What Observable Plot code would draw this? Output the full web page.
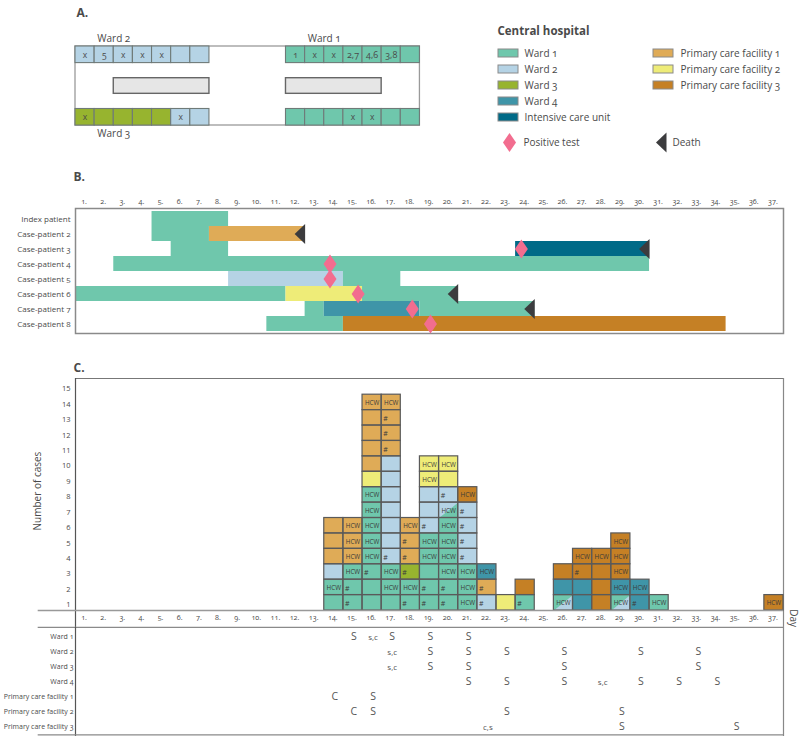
<!DOCTYPE html>
<html><head><meta charset="utf-8">
<script src="https://cdn.jsdelivr.net/npm/d3@7"></script>
<script src="https://cdn.jsdelivr.net/npm/@observablehq/plot@0.6"></script>
<style>
html,body{margin:0;padding:0;background:#fff}
#root{position:relative;width:800px;height:743px;overflow:hidden}
#root svg{position:absolute;left:0;overflow:visible}
</style></head><body><div id="root"></div>
<script>
const FONT = '"Open Sans","Noto Sans",sans-serif';
const INK = "#4a4a4a";
const colours = {W1:"#6fc7ac",W2:"#b5d3e5",W3:"#97b42f",W4:"#3f95a8",ICU:"#006a87",P1:"#dfab57",P2:"#eeec78",P3:"#c58025"};
const days = d3.range(1,38);

// Panel A
const wardTop = ["x","5","x","x","x","",""];
const wardTopRight = ["1","x","x","2,7","4,6","3,8",""];
const wardBottomGroups = ["W3","W3","W3","W3","W3","W2","W2"];
const wardBottom = ["x","","","","","x",""];
const wardBottomRight = ["","","","x","x","",""];
const wardLabels = [{t:"Ward 2",c:2,r:-0.3},{t:"Ward 1",c:13,r:-0.3},{t:"Ward 3",c:2,r:3.3}];
const corridors = [{c:2,w:5},{c:11,w:5}];

// Legend
const legendLeft = [["Ward 1","W1"],["Ward 2","W2"],["Ward 3","W3"],["Ward 4","W4"],["Intensive care unit","ICU"]];
const legendRight = [["Primary care facility 1","P1"],["Primary care facility 2","P2"],["Primary care facility 3","P3"]];

// Panel B
const patients = ["Index patient","Case-patient 2","Case-patient 3","Case-patient 4","Case-patient 5","Case-patient 6","Case-patient 7","Case-patient 8"];
const stays = [
 [0,4,8,"W1"],
 [1,4,7,"W1"],[1,7,12,"P1"],
 [2,5,8,"W1"],[2,23,30,"ICU"],
 [3,2,30,"W1"],
 [4,8,14,"W2"],[4,14,17,"W1"],
 [5,0,11,"W1"],[5,11,15,"P2"],[5,15,20,"W1"],
 [6,12,13,"W1"],[6,13,18,"W4"],[6,18,24,"W1"],
 [7,10,14,"W1"],[7,14,34,"P3"]
];
const positives = [[2,23.3],[3,13.3],[4,13.3],[5,14.77],[6,17.6],[7,18.55]];
const deaths = [[1,12],[2,30],[5,20],[6,24]];

// Panel C: each day's stack, bottom up. "H" = HCW, "#" = hash. "A/B" = A with a B corner.
const stacks = [
 [14,["W1","W1 H","W2","P1","P1","P1"]],
 [15,["W1 #","W1 #","W1 H","P1 H","P1 H","P1 H"]],
 [16,["W1","W1","W1 #","W1 H","W1 H","W1 H","W1 H","W1 H","P2","P1","P1","P1","P1","P1 H"]],
 [17,["W1","W1 H","W1 H","W2 #","W2","W2","W2","W2","W2","W2","P1 #","P1 #","P1 #","P1 H"]],
 [18,["W1 #","W1 H","W3 #","P1 #","P1 #","P1 H"]],
 [19,["W1 #","W1 #","W1","W1 H","W1 H","W2 #","W2","W2","P2 H","P2 H"]],
 [20,["W1 #","W1 #","W1 H","W1 H","W1 H","W1 H","W2/W1 H","W2 #","P2","P2 H"]],
 [21,["W1 H","W1 H","W1 H","W2 #","W2 #","W2 #","W2 #","P3 H"]],
 [22,["W2 #","P1 #","W4 H"]],
 [23,["P2"]],
 [24,["W1 #","P3"]],
 [26,["W1/W2 H","W4","P3"]],
 [27,["W4","W4","P3 #","P3 H"]],
 [28,["P3","P3","P3","P3 H"]],
 [29,["W1/W2 H","W4 H","P3 H","P3 H","P3 H"]],
 [30,["W4 #","W4 H"]],
 [31,["W1 H"]],
 [37,["P3 H"]]
];
const caseTicks = d3.range(1,16);

// Panel D
const facilities = ["Ward 1","Ward 2","Ward 3","Ward 4","Primary care facility 1","Primary care facility 2","Primary care facility 3"];
const screening = [
 [0,15,"S"],[0,16,"S,C"],[0,17,"S"],[0,19,"S"],[0,21,"S"],
 [1,17,"S,C"],[1,19,"S"],[1,21,"S"],[1,23,"S"],[1,26,"S"],[1,30,"S"],[1,33,"S"],
 [2,17,"S,C"],[2,19,"S"],[2,21,"S"],[2,26,"S"],[2,33,"S"],
 [3,21,"S"],[3,23,"S"],[3,26,"S"],[3,28,"S,C"],[3,30,"S"],[3,32,"S"],[3,34,"S"],
 [4,14,"C"],[4,16,"S"],
 [5,15,"C"],[5,16,"S"],[5,23,"S"],[5,29,"S"],
 [6,22,"C,S"],[6,29,"S"],[6,35,"S"]
];

// ----- derived tables
const colour = k => colours[k];
const wardCells = [
 ...wardTop.map((label,i)=>({c:i,r:0,g:"W2",label})),
 ...wardTopRight.map((label,i)=>({c:11+i,r:0,g:"W1",label})),
 ...wardBottom.map((label,i)=>({c:i,r:2.373,g:wardBottomGroups[i],label})),
 ...wardBottomRight.map((label,i)=>({c:11+i,r:2.373,g:"W1",label}))
];
const cells = stacks.flatMap(([day,list])=>list.map((s,i)=>{
  const [g,flag]=s.split(" ");
  const [g1,g2]=g.split("/");
  return {day,row:i+1,g:g1,g2,flag};
}));
const splitTriangles = cells.filter(d=>d.g2).flatMap((d,i)=>[
  {z:i,x:d.day-1,y:d.row-1,g:d.g2},{z:i,x:d.day,y:d.row-1,g:d.g2},{z:i,x:d.day,y:d.row,g:d.g2}
]);

const dayAxis = anchor => Plot.axisX({anchor,ticks:days.map(d=>d-0.5),tickSize:0,tickPadding:anchor==="top"?5:4,
  tickFormat:d=>`${d+0.5}.`,fontSize:7.2,fontVariant:"oldstyle-nums",fill:INK,label:null,dx:-1});
const diamond = {draw(c){c.moveTo(0,-9.5);c.lineTo(6.5,0);c.lineTo(0,9.5);c.lineTo(-6.5,0);c.closePath();}};
const deathMark = {draw(c){c.moveTo(0,-10);c.lineTo(0,10);c.lineTo(-10.5,0);c.closePath();}};
const base = {width:800,marginLeft:75,marginRight:17,style:{fontFamily:FONT,fontVariantNumeric:"oldstyle-nums",background:"transparent"},
  x:{domain:[0,37],axis:null}};
const place = (plot,top)=>{plot.style.top=top+"px";document.getElementById("root").append(plot);};

// ----- Panel A
place(Plot.plot({...base,height:160,marginTop:46,marginBottom:35,
  y:{domain:[0,3],reverse:true,axis:null},
  marks:[
    Plot.rect([0],{x1:()=>0,x2:()=>18,y1:()=>0,y2:()=>3,fill:"white",stroke:"#9a9a9a",strokeWidth:1.3}),
    Plot.rect(corridors,{x1:"c",x2:d=>d.c+d.w,y1:()=>1.204,y2:()=>1.797,fill:"#e6e6e6",stroke:"#666",strokeWidth:1.4}),
    Plot.rect(wardCells,{x1:"c",x2:d=>d.c+1,y1:"r",y2:d=>d.r+0.63,fill:d=>colour(d.g),stroke:"#6f7a78",strokeWidth:1.1}),
    Plot.text(wardCells,{x:d=>d.c+0.5,y:d=>d.r+0.315,text:"label",fontSize:d=>d.label.length>1?9:8.5,fill:INK}),
    Plot.text(wardLabels,{x:"c",y:"r",text:"t",fontSize:10,fill:INK}),
    Plot.text(["A."],{x:()=>0.05,y:()=>-1.25,text:d=>d,textAnchor:"start",fontSize:12,fontWeight:"bold",fill:INK})
  ]}),0);

// ----- Legend
const markRow = 5.56;
place(Plot.plot({width:800,height:170,marginTop:21,marginBottom:5,marginLeft:0,marginRight:0,
  style:base.style,
  x:{domain:[0,800],axis:null},
  y:{domain:[-2,7],reverse:true,axis:null},
  marks:[
    Plot.text(["Central hospital"],{x:()=>497,y:()=>-1.4,text:d=>d,textAnchor:"start",fontWeight:"bold",fontSize:11.5,fill:INK}),
    Plot.rect(legendLeft,{x1:()=>498,x2:()=>518,y1:(d,i)=>i-0.25,y2:(d,i)=>i+0.25,fill:d=>colour(d[1]),stroke:"#8a8a8a",strokeWidth:1}),
    Plot.text(legendLeft,{x:()=>524,y:(d,i)=>i,text:d=>d[0],textAnchor:"start",fontSize:10,fill:INK}),
    Plot.rect(legendRight,{x1:()=>653,x2:()=>673,y1:(d,i)=>i-0.25,y2:(d,i)=>i+0.25,fill:d=>colour(d[1]),stroke:"#8a8a8a",strokeWidth:1}),
    Plot.text(legendRight,{x:()=>680,y:(d,i)=>i,text:d=>d[0],textAnchor:"start",fontSize:10,fill:INK}),
    Plot.dot(["Positive test"],{x:()=>509,y:()=>markRow,symbol:diamond,fill:"#f26d8f",r:5}),
    Plot.text(["Positive test"],{x:()=>523,y:()=>markRow,text:d=>d,textAnchor:"start",fontSize:10,fill:INK}),
    Plot.dot(["Death"],{x:()=>666,y:()=>markRow,symbol:deathMark,fill:"#3c3c3e",r:5}),
    Plot.text(["Death"],{x:()=>672,y:()=>markRow,text:d=>d,textAnchor:"start",fontSize:10,fill:INK})
  ]}),0);

// ----- Panel B
place(Plot.plot({...base,height:163,marginTop:38,marginBottom:0,
  y:{domain:patients,type:"band",padding:0,axis:null},
  marks:[
    Plot.barX(stays,{x1:d=>d[1],x2:d=>d[2],y:d=>patients[d[0]],fill:d=>colour(d[3])}),
    Plot.frame({stroke:"#8a8a8a",strokeWidth:1.5}),
    dayAxis("top"),
    Plot.axisY({tickSize:0,tickPadding:5,fontSize:8,fill:INK,label:null,fontWeight:500}),
    Plot.dot(positives,{x:d=>d[1],y:d=>patients[d[0]],symbol:diamond,fill:"#f26d8f",r:5}),
    Plot.dot(deaths,{x:d=>d[1],y:d=>patients[d[0]],symbol:deathMark,fill:"#3c3c3e",r:5}),
    Plot.text(["B."],{x:()=>0,frameAnchor:"top",lineAnchor:"middle",dy:-31,text:d=>d,textAnchor:"start",fontSize:12,fontWeight:"bold",fill:INK,dx:-2})
  ]}),170);

// ----- Panel C
place(Plot.plot({...base,height:267,marginTop:18,marginBottom:17,
  y:{domain:[0,15.05],axis:null},
  marks:[
    Plot.ruleY([15.05],{x1:0,x2:37,stroke:"#777",strokeWidth:1}),
    Plot.ruleX([0],{y1:-1.1,y2:15.05,stroke:"#555",strokeWidth:1.2}),
    Plot.ruleX([37],{y1:-1.1,y2:15.05,stroke:"#888",strokeWidth:1.2}),
    Plot.rect(cells,{x1:d=>d.day-1,x2:"day",y1:d=>d.row-1,y2:"row",fill:d=>colour(d.g)}),
    Plot.line(splitTriangles,{x:"x",y:"y",z:"z",fill:d=>colour(d.g),stroke:"none"}),
    Plot.rect(cells,{x1:d=>d.day-1,x2:"day",y1:d=>d.row-1,y2:"row",fill:"none",stroke:"#5a5a5a",strokeWidth:1.2}),
    Plot.text(cells.filter(d=>d.flag==="H"),{x:d=>d.day-0.5,y:d=>d.row-0.5,text:()=>"HCW",fontSize:6.3,fill:"#3a3a3a",dy:0.5}),
    Plot.text(cells.filter(d=>d.flag==="#"),{x:d=>d.day-0.8,y:d=>d.row-0.5,text:()=>"#",fontSize:7,fill:"#3a3a3a",dy:1}),
    Plot.ruleY([0],{x1:-1.95,x2:37,stroke:"#999",strokeWidth:1.5}),
    Plot.ruleY([-1.1],{x1:-1.95,x2:37,stroke:"#8a8a8a",strokeWidth:1.2}),
    dayAxis("bottom"),
    Plot.axisY({ticks:caseTicks.map(d=>d-0.5),tickSize:0,tickPadding:5,dy:2,tickFormat:d=>`${d+0.5}`,fontSize:7.5,fill:INK,label:null}),
    Plot.text(["Number of cases"],{x:()=>-1.98,y:()=>7.75,text:d=>d,rotate:-90,fontSize:10,fill:INK}),
    Plot.text(["Day"],{x:()=>37.52,y:()=>-0.5,text:d=>d,rotate:90,fontSize:10,fill:INK}),
    Plot.text(["C."],{x:()=>0,y:()=>15.75,text:d=>d,textAnchor:"start",fontSize:12,fontWeight:"bold",fill:INK,dx:-2})
  ]}),360);

// ----- Panel D
place(Plot.plot({...base,height:113,marginTop:0,marginBottom:4,
  y:{domain:facilities,type:"band",padding:0,axis:null},
  marks:[
    Plot.ruleX([0],{stroke:"#555",strokeWidth:1.2}),
    Plot.ruleX([37],{stroke:"#888",strokeWidth:1.2}),
    Plot.ruleY([facilities[6]],{x1:-1.95,x2:37,stroke:"#8a8a8a",strokeWidth:1.2,dy:7.8}),
    Plot.axisY({tickSize:0,tickPadding:2,fontSize:7,fill:INK,label:null,fontWeight:500}),
    Plot.text(screening,{x:d=>d[1]-0.45,y:d=>facilities[d[0]],text:d=>d[2].length>1?d[2].toLowerCase():d[2],fontSize:d=>d[2].length>1?8:10.5,fill:"#555"})
  ]}),627);
</script></body></html>
